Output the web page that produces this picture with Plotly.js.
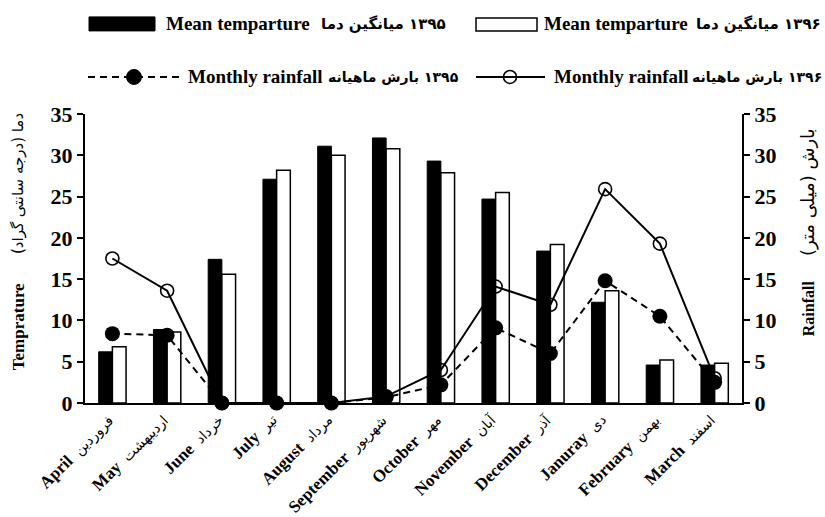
<!DOCTYPE html>
<html>
<head>
<meta charset="utf-8">
<script src="https://cdn.plot.ly/plotly-3.0.1.min.js"></script>
<style>html,body{margin:0;padding:0;background:#fff;}#chart{width:825px;height:517px;}</style>
</head>
<body>
<div id="chart"></div>
<script>
// ---- data ----
var monthsEn = ['April','May','June','July','August','September','October','November','December','Januray','February','March'];
var monthsFa = ['فروردین','اردیبهشت','خرداد','تیر','مرداد','شهریور','مهر','آبان','آذر','دی','بهمن','اسفند'];
var temp1395 = [6.2, 8.9, 17.4, 27.1, 31.1, 32.1, 29.3, 24.7, 18.4, 12.2, 4.6, 4.6];
var temp1396 = [6.8, 8.6, 15.6, 28.2, 30.0, 30.8, 27.9, 25.5, 19.2, 13.6, 5.2, 4.8];
var rain1395 = [8.4, 8.2, 0, 0, 0, 0.7, 2.2, 9.1, 6.0, 14.8, 10.5, 2.5];
var rain1396 = [17.5, 13.6, 0, 0, 0, 0.8, 4.0, 14.1, 11.9, 25.9, 19.3, 3.0];
var yTicks = [0, 5, 10, 15, 20, 25, 30, 35];

var legendTemp = 'Mean temparture';
var legendRain = 'Monthly rainfall';
var legendTemp1395 = '\u200F۱۳۹۵ میانگین دما';
var legendTemp1396 = '\u200F۱۳۹۶ میانگین دما';
var legendRain1395 = '\u200F۱۳۹۵ بارش ماهیانه';
var legendRain1396 = '\u200F۱۳۹۶ بارش ماهیانه';
var yTitleEn = 'Temprature';
var yTitleFa = 'دما (درجه سانتی گراد)\u200F';
var y2TitleEn = 'Rainfall';
var y2TitleFa = 'بارش (میلی متر)\u200F';

// ---- geometry helpers (pixel -> paper) ----
var L = 85, R = 742, T = 114, B = 402.7;
function X(px) { return (px - L) / (R - L); }
function Y(py) { return (B - py) / (B - T); }

var FONT = 'Liberation Serif, DejaVu Sans, serif';

var traces = [
  { type: 'bar', x: monthsEn, y: temp1395, name: '1395 temp',
    marker: { color: '#000000', line: { color: '#000000', width: 1 } }, showlegend: false },
  { type: 'bar', x: monthsEn, y: temp1396, name: '1396 temp',
    marker: { color: '#ffffff', line: { color: '#000000', width: 1.5 } }, showlegend: false },
  { type: 'scatter', mode: 'lines+markers', x: monthsEn, y: rain1396, yaxis: 'y2', name: '1396 rain',
    line: { color: '#000000', width: 2 }, cliponaxis: false,
    marker: { symbol: 'circle-open', size: 13, color: '#000000', line: { width: 1.6, color: '#000000' } },
    showlegend: false },
  { type: 'scatter', mode: 'lines+markers', x: monthsEn, y: rain1395, yaxis: 'y2', name: '1395 rain',
    line: { color: '#000000', width: 2, dash: '7px,5px' }, cliponaxis: false,
    marker: { symbol: 'circle', size: 15, color: '#000000' },
    showlegend: false }
];

var shapes = [
  { type: 'rect', xref: 'paper', yref: 'paper', x0: X(89), x1: X(155), y0: Y(31), y1: Y(17),
    fillcolor: '#000', line: { color: '#000', width: 1 } },
  { type: 'rect', xref: 'paper', yref: 'paper', x0: X(476), x1: X(537), y0: Y(31), y1: Y(18),
    fillcolor: '#fff', line: { color: '#000', width: 1.5 } },
  { type: 'line', xref: 'paper', yref: 'paper', x0: X(88), x1: X(180), y0: Y(77), y1: Y(77),
    line: { color: '#000', width: 2, dash: '7px,5px' } },
  { type: 'circle', xref: 'paper', yref: 'paper', xsizemode: 'pixel', ysizemode: 'pixel',
    xanchor: X(134), yanchor: Y(77), x0: -7.5, x1: 7.5, y0: -7.5, y1: 7.5,
    fillcolor: '#000', line: { color: '#000', width: 1 } },
  { type: 'line', xref: 'paper', yref: 'paper', x0: X(476), x1: X(545), y0: Y(77), y1: Y(77),
    line: { color: '#000', width: 2 } },
  { type: 'circle', xref: 'paper', yref: 'paper', xsizemode: 'pixel', ysizemode: 'pixel',
    xanchor: X(510), yanchor: Y(77), x0: -6.5, x1: 6.5, y0: -6.5, y1: 6.5,
    fillcolor: 'rgba(0,0,0,0)', line: { color: '#000', width: 1.6 } }
];

function ann(text, px, py, opts) {
  var a = { text: text, xref: 'paper', yref: 'paper', x: X(px), y: Y(py), showarrow: false,
    xanchor: 'left', yanchor: 'middle', font: { family: FONT, size: 19, color: '#000', weight: 'bold' } };
  for (var k in opts) { a[k] = opts[k]; }
  return a;
}
function faFont(sz, w) { return { family: 'DejaVu Sans', size: sz, color: '#000', weight: w || 'bold' }; }

var annotations = [
  ann(legendTemp, 164, 24),
  ann(legendTemp1395, 383, 24, { xanchor: 'center', font: faFont(15) }),
  ann(legendTemp, 542, 24),
  ann(legendTemp1396, 823, 24, { xanchor: 'right', font: faFont(15) }),
  ann(legendRain, 186, 77),
  ann(legendRain1395, 326, 77, { xanchor: 'left', font: faFont(14) }),
  ann(legendRain, 552, 77),
  ann(legendRain1396, 824, 77, { xanchor: 'right', font: faFont(14) }),
  // axis titles
  ann(yTitleEn, 18, 327, { xanchor: 'center', textangle: -90, font: { family: FONT, size: 17, color: '#000', weight: 'bold' } }),
  ann(yTitleFa, 18, 184, { xanchor: 'center', textangle: -90, font: faFont(15, 'normal') }),
  ann(y2TitleEn, 808, 308, { xanchor: 'center', textangle: -90, font: { family: FONT, size: 16, color: '#000', weight: 'bold' } }),
  ann(y2TitleFa, 808, 192, { xanchor: 'center', textangle: -90, font: faFont(18, 'normal') })
];

// x category labels (English bold + Persian regular), rotated -45
monthsEn.forEach(function (m, i) {
  annotations.push({
    text: m + '\u00A0\u00A0<span style="font-weight:normal;font-size:14px">' + monthsFa[i] + '</span>',
    xref: 'x', yref: 'paper', x: m, y: 0, xanchor: 'right', yanchor: 'top',
    xshift: 6, yshift: -6, textangle: -45, showarrow: false, borderpad: 0,
    font: { family: FONT, size: 17, color: '#000', weight: 'bold' }
  });
});

var yaxisCommon = {
  range: [0, 35], tickvals: yTicks, ticks: 'outside', ticklen: 6, tickwidth: 2, tickcolor: '#000',
  showline: true, linewidth: 2, linecolor: '#000', showgrid: false, zeroline: false,
  tickfont: { family: FONT, size: 22, color: '#000', weight: 'bold' }, fixedrange: true
};

var layout = {
  width: 825, height: 517,
  margin: { l: L, r: 825 - R, t: T, b: 517 - B, pad: 0 },
  paper_bgcolor: '#fff', plot_bgcolor: '#fff',
  font: { family: FONT, color: '#000' },
  barmode: 'group', bargap: 0.5, bargroupgap: 0,
  showlegend: false,
  xaxis: {
    type: 'category', categoryarray: monthsEn, range: [-0.5, monthsEn.length - 0.5], autorange: false,
    showticklabels: false,
    showline: true, linewidth: 2, linecolor: '#000', ticks: '', showgrid: false, zeroline: false
  },
  yaxis: Object.assign({}, yaxisCommon, { side: 'left' }),
  yaxis2: Object.assign({}, yaxisCommon, { side: 'right', overlaying: 'y' }),
  shapes: shapes,
  annotations: annotations
};

Plotly.newPlot('chart', traces, layout, { staticPlot: true, displayModeBar: false });
</script>
</body>
</html>
